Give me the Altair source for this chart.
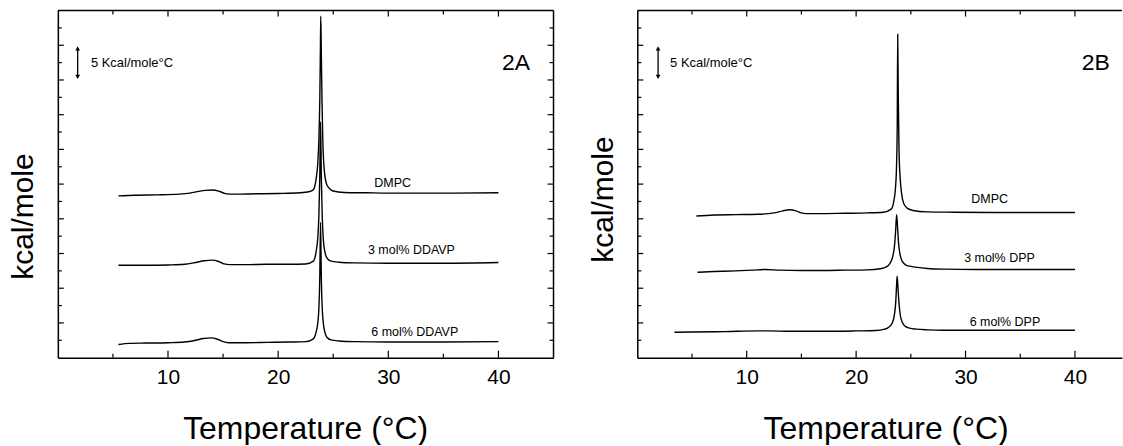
import altair as alt
import pandas as pd

FONT = "Liberation Sans"

# ---------------- Panel 2A (DDAVP) ----------------
a_dmpc_t = [5.5, 7, 9, 11, 12, 12.8, 13.4, 14.0, 14.6, 15.0, 15.3, 16, 18, 20, 22, 22.8, 23.2, 23.45, 23.6,
            23.7, 23.78, 23.84, 23.87, 23.91, 23.98, 24.06, 24.2, 24.4, 24.7, 25.0, 26, 28, 30, 33, 36, 40]
a_dmpc_y = [23.3, 23.4, 23.45, 23.55, 23.7, 23.95, 24.1, 24.15, 24.0, 23.75, 23.6, 23.55, 23.6, 23.65, 23.75, 23.9,
            24.2, 25.8, 28.0, 31.5, 37.0, 45.0, 49.2, 45.0, 37.0, 31.0, 26.8, 25.0, 24.3, 24.0, 23.8, 23.75, 23.7,
            23.7, 23.7, 23.75]

a_3_t = [5.5, 8, 10, 11.5, 12.5, 13.3, 14.0, 14.6, 15.1, 15.6, 17, 19, 21, 22.5, 23.2, 23.45, 23.6, 23.7, 23.78,
         23.85, 23.92, 24.0, 24.1, 24.25, 24.45, 24.8, 25.5, 27, 30, 35, 40]
a_3_y = [13.3, 13.3, 13.35, 13.45, 13.7, 13.95, 14.05, 13.85, 13.5, 13.4, 13.4, 13.45, 13.45, 13.5, 13.9, 15.3,
         17.3, 20.5, 26.0, 34.0, 26.0, 20.5, 17.0, 15.2, 14.3, 13.9, 13.75, 13.65, 13.6, 13.6, 13.7]

a_6_t = [5.5, 6.5, 8, 10, 11.5, 12.5, 13.2, 13.9, 14.5, 15.0, 15.5, 17, 19, 21, 22.5, 23.2, 23.45, 23.6, 23.7,
         23.78, 23.85, 23.92, 24.0, 24.1, 24.25, 24.45, 24.8, 25.5, 27, 30, 35, 40]
a_6_y = [1.9, 2.05, 2.1, 2.15, 2.25, 2.5, 2.75, 2.85, 2.65, 2.3, 2.15, 2.15, 2.2, 2.25, 2.3, 2.7, 3.7, 5.0, 7.2,
         11.5, 19.5, 11.5, 7.2, 5.0, 3.6, 2.9, 2.55, 2.4, 2.3, 2.25, 2.25, 2.3]

a_label_text = ["DMPC", "3 mol% DDAVP", "6 mol% DDAVP"]
a_label_t = [30.4, 32.1, 32.4]
a_label_y = [25.2, 15.5, 3.7]

# ---------------- Panel 2B (DPP) ----------------
b_dmpc_t = [5.4, 7, 9, 11, 12.5, 13.3, 13.9, 14.5, 15.0, 15.4, 16.5, 19, 21, 22.5, 23.2, 23.45, 23.6, 23.7,
            23.76, 23.8, 23.85, 23.92, 24.02, 24.15, 24.35, 24.7, 25.2, 26.5, 29, 33, 37, 40]
b_dmpc_y = [20.4, 20.55, 20.6, 20.65, 20.85, 21.15, 21.3, 21.15, 20.85, 20.75, 20.75, 20.8, 20.85, 20.95, 21.4,
            22.6, 24.5, 28.0, 34.0, 46.6, 38.0, 30.0, 26.0, 23.7, 22.2, 21.5, 21.2, 21.0, 20.95, 20.9, 20.9, 20.9]

b_3_t = [5.5, 7, 9, 10.5, 11.7, 13, 15, 17, 19, 21, 22.2, 22.8, 23.1, 23.35, 23.5, 23.62, 23.7, 23.78, 23.88,
         24.0, 24.15, 24.35, 24.6, 25.0, 25.6, 26.5, 28, 31, 35, 40]
b_3_y = [12.3, 12.4, 12.5, 12.6, 12.7, 12.6, 12.55, 12.55, 12.6, 12.65, 12.8, 13.1, 13.6, 14.6, 16.0, 18.5,
         20.6, 19.0, 16.5, 15.0, 14.1, 13.6, 13.3, 13.15, 13.0, 12.85, 12.75, 12.7, 12.7, 12.7]

b_6_t = [3.4, 5, 8, 11, 12, 14, 17, 20, 21.8, 22.6, 23.0, 23.3, 23.5, 23.62, 23.7, 23.75, 23.82, 23.92, 24.05,
         24.25, 24.5, 24.9, 25.5, 26.5, 28, 31, 35, 40]
b_6_y = [3.65, 3.7, 3.75, 3.85, 3.85, 3.8, 3.8, 3.85, 3.9, 4.1, 4.4, 5.0, 6.2, 8.0, 10.5, 11.75, 10.2, 7.8, 6.0,
         5.0, 4.5, 4.25, 4.1, 4.0, 3.95, 3.95, 3.95, 3.95]

b_label_text = ["DMPC", "3 mol% DPP", "6 mol% DPP"]
b_label_t = [32.2, 33.1, 33.6]
b_label_y = [22.8, 14.4, 5.1]

# ---------------- shared annotations / ticks ----------------
scale_bar_text = "5 Kcal/mole°C"
scale_bar_low, scale_bar_high = 40.0, 45.0
x_label_values = [10, 20, 30, 40]
x_major_ticks = [10, 20, 30, 40]
x_minor_ticks = [5, 15, 25, 35]
y_major_ticks = [5, 10, 15, 20, 25, 30, 35, 40, 45]
y_minor_ticks = [2.5, 7.5, 12.5, 17.5, 22.5, 27.5, 32.5, 37.5, 42.5, 47.5]


def curves_frame(series):
    rows = []
    for name, (ts, ys) in series.items():
        for t, y in zip(ts, ys):
            rows.append({"T": t, "Y": y, "curve": name})
    return pd.DataFrame(rows)


def panel(series, labels, tag, tag_t, arrow_t, text_t, W, H, xmax, right_frame, title_x, ytitle_y):
    xs = alt.Scale(domain=[0, xmax], nice=False, zero=False)
    ys = alt.Scale(domain=[0, 50], nice=False, zero=False)
    xa = alt.Axis(
        values=x_label_values, ticks=False, grid=False, domain=True, domainColor="black",
        domainWidth=1.5, labelFontSize=21, labelFont=FONT, labelColor="black", labelPadding=9,
        labelFlush=False, title="Temperature (°C)", titleFont=FONT, titleFontSize=32,
        titleFontWeight="normal", titleColor="black", titleX=title_x, titleY=81,
        titleBaseline="alphabetic", titleAlign="center")
    ya = alt.Axis(
        labels=False, ticks=False, grid=False, domain=True, domainColor="black", domainWidth=1.5,
        title="kcal/mole", titleFont=FONT, titleFontSize=30, titleFontWeight="normal",
        titleColor="black", titleAngle=270, titleX=-25, titleY=ytitle_y,
        titleBaseline="alphabetic", titleAlign="center")

    def X(field="T:Q"):
        return alt.X(field, scale=xs, axis=xa)

    def Y(field="Y:Q"):
        return alt.Y(field, scale=ys, axis=ya)

    df = curves_frame(series)
    lines = alt.Chart(df).mark_line(color="black", strokeWidth=1.4, interpolate="monotone").encode(
        x=X(), y=Y(), detail="curve:N")
    layers = [lines]

    def xt(vals, length, top):
        y0, y1 = (0, length) if top else (H, H - length)
        return alt.Chart(pd.DataFrame({"T": vals})).mark_rule(color="black", strokeWidth=1.2).encode(
            x=X(), y=alt.value(y0), y2=alt.value(y1))

    def yt(vals, length, right):
        x0, x1 = (W, W - length) if right else (0, length)
        return alt.Chart(pd.DataFrame({"Y": vals})).mark_rule(color="black", strokeWidth=1.2).encode(
            y=Y(), x=alt.value(x0), x2=alt.value(x1))

    layers += [xt(x_major_ticks, 7, False), xt(x_minor_ticks, 4, False),
               xt(x_major_ticks, 6, True), xt(x_minor_ticks, 4, True),
               yt(y_major_ticks, 6, False), yt(y_minor_ticks, 4, False)]
    if right_frame:
        layers += [yt(y_major_ticks, 6, True), yt(y_minor_ticks, 4, True)]
        layers.append(alt.Chart(pd.DataFrame({"a": [0]})).mark_rule(color="black", strokeWidth=1.5).encode(
            x=alt.value(W), y=alt.value(0), y2=alt.value(H)))
    # top frame line
    layers.append(alt.Chart(pd.DataFrame({"a": [0]})).mark_rule(color="black", strokeWidth=1.5).encode(
        x=alt.value(0), x2=alt.value(W), y=alt.value(0)))

    # curve labels
    ltxt, lt, ly = labels
    layers.append(alt.Chart(pd.DataFrame({"T": lt, "Y": ly, "text": ltxt})).mark_text(
        font=FONT, fontSize=12.5, color="black", align="center", baseline="middle").encode(
        x=X(), y=Y(), text="text:N"))
    # panel tag
    layers.append(alt.Chart(pd.DataFrame({"T": [tag_t], "Y": [42.5], "text": [tag]})).mark_text(
        font=FONT, fontSize=23, color="black", align="center", baseline="middle").encode(
        x=X(), y=Y(), text="text:N"))
    # scale bar
    layers.append(alt.Chart(pd.DataFrame({"T": [arrow_t], "Y": [scale_bar_low + 0.6],
                                          "Y2": [scale_bar_high - 0.6]})).mark_rule(
        color="black", strokeWidth=1.3).encode(x=X(), y=Y(), y2="Y2:Q"))
    layers.append(alt.Chart(pd.DataFrame({"T": [arrow_t], "Y": [scale_bar_high - 0.45]})).mark_point(
        shape="triangle-up", filled=True, color="black", size=22, opacity=1).encode(x=X(), y=Y()))
    layers.append(alt.Chart(pd.DataFrame({"T": [arrow_t], "Y": [scale_bar_low + 0.45]})).mark_point(
        shape="triangle-down", filled=True, color="black", size=22, opacity=1).encode(x=X(), y=Y()))
    layers.append(alt.Chart(pd.DataFrame({"T": [text_t], "Y": [42.4], "text": [scale_bar_text]})).mark_text(
        font=FONT, fontSize=13, color="black", align="left", baseline="middle").encode(
        x=X(), y=Y(), text="text:N"))

    return alt.layer(*layers).properties(width=W, height=H)


panel_a = panel(
    {"DMPC": (a_dmpc_t, a_dmpc_y), "3 mol% DDAVP": (a_3_t, a_3_y), "6 mol% DDAVP": (a_6_t, a_6_y)},
    (a_label_text, a_label_t, a_label_y), "2A", 41.6, 1.8, 3.0,
    W=497, H=348, xmax=45, right_frame=True, title_x=248, ytitle_y=206)

panel_b = panel(
    {"DMPC": (b_dmpc_t, b_dmpc_y), "3 mol% DPP": (b_3_t, b_3_y), "6 mol% DPP": (b_6_t, b_6_y)},
    (b_label_text, b_label_t, b_label_y), "2B", 41.9, 1.9, 3.0,
    W=486, H=348, xmax=44.3, right_frame=False, title_x=249, ytitle_y=189)

chart = alt.hconcat(panel_a, panel_b, spacing=34).properties(
    padding={"left": 9, "top": 9, "right": 0, "bottom": 0},
    background="white",
).configure_view(strokeOpacity=0)

chart.save("out.html", embed_options={"renderer": "svg", "actions": False})
